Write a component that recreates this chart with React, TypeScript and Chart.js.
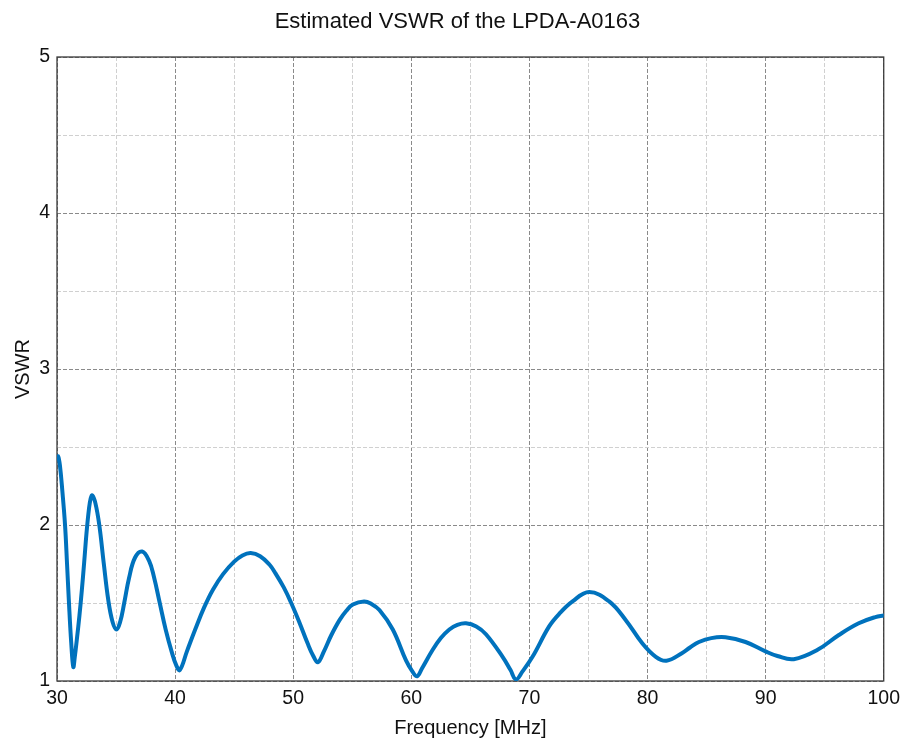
import React, { useEffect, useRef } from "react";
import { Chart, registerables } from "chart.js";

Chart.register(...registerables);

const freqMHz = [
  30.0, 30.1, 30.25, 30.45, 30.68, 30.85, 31.0, 31.2, 31.38, 31.5, 31.7, 31.9, 32.1, 32.3, 32.5, 32.7, 32.85, 32.99,
  33.25, 33.58, 33.95, 34.34, 34.7, 35.04, 35.35, 35.69, 36.1, 36.6, 37.21, 37.8, 38.2, 38.7, 39.2, 39.7,
  40.1, 40.4, 41.0, 41.7, 42.45, 43.2, 44.06, 45.0, 45.7, 46.4, 47.2, 48.0, 48.5, 49.2, 49.83, 50.5, 51.2,
  51.7, 52.09, 52.6, 53.2, 53.92, 54.5, 55.05, 56.0, 56.6, 57.3, 58.43, 59.56, 60.1, 60.49, 60.9, 61.81, 62.5,
  63.22, 63.9, 64.63, 65.5, 66.32, 67.73, 68.4, 68.86, 69.4, 70.26, 71.67, 72.52, 73.65, 75.06, 76.75, 78.16, 79.57,
  80.7, 81.6, 82.94, 83.6, 84.35, 85.4, 86.6, 88.3, 89.99, 91.0, 92.38, 94.4, 96.2, 97.88, 99.29, 100,
];

const vswrValues = [
  2.43, 2.44, 2.38, 2.22, 2.0, 1.75, 1.52, 1.25, 1.09, 1.15, 1.28, 1.42, 1.58, 1.76, 1.95, 2.1, 2.17, 2.19,
  2.14, 2.0, 1.76, 1.52, 1.38, 1.33, 1.38, 1.5, 1.66, 1.79, 1.83, 1.77, 1.67, 1.5, 1.33, 1.19,
  1.1, 1.07, 1.19, 1.33, 1.47, 1.585, 1.685, 1.765, 1.805, 1.82, 1.8, 1.745, 1.69, 1.6, 1.5, 1.38, 1.245,
  1.16, 1.12, 1.19, 1.29, 1.39, 1.45, 1.49, 1.51, 1.495, 1.455, 1.33, 1.13, 1.06, 1.03, 1.08, 1.2, 1.275,
  1.33, 1.36, 1.37, 1.35, 1.3, 1.155, 1.07, 1.01, 1.06, 1.155, 1.35, 1.43, 1.51, 1.57, 1.51, 1.39, 1.24,
  1.155, 1.13, 1.18, 1.215, 1.25, 1.275, 1.28, 1.25, 1.19, 1.16, 1.14, 1.2, 1.295, 1.37, 1.41, 1.42,
];

const xRange = [30, 100];
const yRange = [1, 5];
const xMajorStep = 10;
const xMinorStep = 5;
const yMajorStep = 1;
const yMinorStep = 0.5;

const FONT = "'Liberation Sans', Arial, sans-serif";
const MAJOR = "#8a8a8a";
const MINOR = "#d0d0d0";

const isMajor = (v: number, step: number) => Math.abs(v / step - Math.round(v / step)) < 1e-6;

const framePlugin = {
  id: "frame",
  beforeDatasetsDraw(chart: any) {
    const { ctx, chartArea } = chart;
    ctx.save();
    ctx.strokeStyle = "#3a3a3a";
    ctx.lineWidth = 1.3;
    ctx.strokeRect(chartArea.left, chartArea.top, chartArea.right - chartArea.left, chartArea.bottom - chartArea.top);
    ctx.restore();
  },
};

export default function App() {
  const ref = useRef<HTMLCanvasElement | null>(null);

  useEffect(() => {
    document.body.style.margin = "0";
    document.body.style.background = "#ffffff";
    const canvas = ref.current;
    if (!canvas) return;
    const points = freqMHz.map((f, i) => ({ x: f, y: vswrValues[i] }));
    const chart = new Chart(canvas, {
      type: "line",
      data: {
        datasets: [
          {
            data: points,
            borderColor: "#0072BD",
            borderWidth: 4,
            pointRadius: 0,
            fill: false,
            tension: 0.4,
            borderCapStyle: "round",
            borderJoinStyle: "round",
          },
        ],
      },
      plugins: [framePlugin],
      options: {
        animation: false,
        responsive: false,
        maintainAspectRatio: false,
        devicePixelRatio: 1,
        layout: { padding: { left: 30, right: 21, top: 0, bottom: 0 } },
        plugins: {
          legend: { display: false },
          tooltip: { enabled: false },
          title: {
            display: true,
            text: "Estimated VSWR of the LPDA-A0163",
            color: "#111111",
            font: { family: FONT, size: 22, weight: "normal" },
            padding: { top: 8.8, bottom: 21.8 },
          },
        },
        scales: {
          x: {
            type: "linear",
            min: xRange[0],
            max: xRange[1],
            border: {
              display: false,
              dash: (ctx: any) => (ctx.tick ? [4, 2] : []),
            },
            grid: {
              drawTicks: false,
              lineWidth: 1,
              color: (ctx: any) =>
                ctx.tick && isMajor(ctx.tick.value, xMajorStep) ? MAJOR : MINOR,
            },
            ticks: {
              stepSize: xMinorStep,
              autoSkip: false,
              maxRotation: 0,
              padding: 6,
              color: "#111111",
              font: { family: FONT, size: 19.5 },
              callback: (v: any) => (isMajor(Number(v), xMajorStep) ? String(v) : ""),
            },
            title: {
              display: true,
              text: "Frequency [MHz]",
              color: "#111111",
              font: { family: FONT, size: 20, lineHeight: 1 },
              padding: { top: 1.6, bottom: 2 },
            },
          },
          y: {
            type: "linear",
            min: yRange[0],
            max: yRange[1],
            border: {
              display: false,
              dash: (ctx: any) => (ctx.tick ? [4, 2] : []),
            },
            grid: {
              drawTicks: false,
              lineWidth: 1,
              color: (ctx: any) =>
                ctx.tick && isMajor(ctx.tick.value, yMajorStep) ? MAJOR : MINOR,
            },
            ticks: {
              stepSize: yMinorStep,
              autoSkip: false,
              padding: 7,
              color: "#111111",
              font: { family: FONT, size: 19.5 },
              callback: (v: any) => (isMajor(Number(v), yMajorStep) ? String(v) : ""),
            },
            title: {
              display: true,
              text: "VSWR",
              color: "#111111",
              font: { family: FONT, size: 20, lineHeight: 1 },
              padding: { top: -16.3, bottom: -1.54 },
            },
          },
        },
      },
    } as any);
    return () => chart.destroy();
  }, []);

  return (
    <div style={{ width: 906, height: 740, background: "#ffffff" }}>
      <canvas ref={ref} width={906} height={740} style={{ display: "block", width: 906, height: 740 }} />
    </div>
  );
}
